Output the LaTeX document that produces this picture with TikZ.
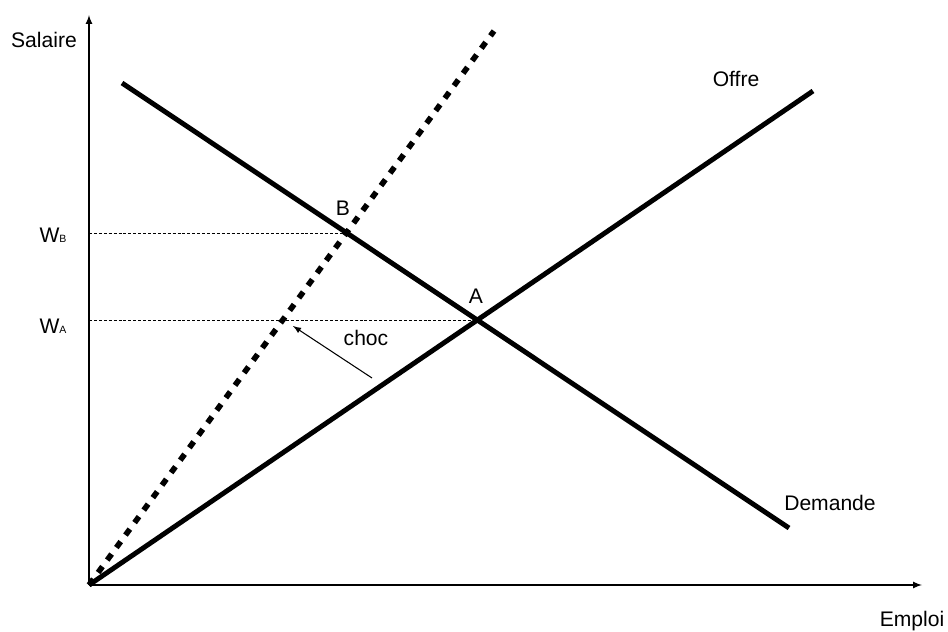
\documentclass[tikz,border=0pt]{standalone}
\usepackage{fontspec}
\setmainfont{Liberation Sans}
\usetikzlibrary{positioning}
\begin{document}
\begin{tikzpicture}[x=0.02cm,y=-0.02cm,>=latex,
courbe/.style={line width=2.8pt},
choccourbe/.style={line width=3.2pt,dash pattern=on 4.2pt off 4.6pt},
niveau/.style={line width=0.5pt,dash pattern=on 1.7pt off 1.1pt},
lbl/.style={inner sep=0pt,font=\fontsize{12}{14}\selectfont},
petit/.style={font=\fontsize{6}{7}\selectfont}]
\useasboundingbox (0,0) rectangle (948,632);

\coordinate (O) at (89,585);
\coordinate (xmax) at (922,585);
\coordinate (ymax) at (89,15);
\coordinate (offreFin) at (813,91);
\coordinate (chocFin) at (494,31);
\coordinate (demDebut) at (122,83);
\coordinate (demFin) at (789,528);
\coordinate (A) at (476,320);
\coordinate (B) at (346,233);
\coordinate (wA) at (89,320);
\coordinate (wB) at (89,233);
\coordinate (chocQueue) at (372,378);
\coordinate (chocPointe) at (293,326);

\draw[->,line width=0.75pt] (O) -- (xmax);
\draw[->,line width=0.75pt] (O) -- (ymax);

\draw[niveau] (wB) -- (B);
\draw[niveau] (wA) -- (A);

\draw[courbe] (O) -- (offreFin);
\draw[courbe] (demDebut) -- (demFin);
\draw[choccourbe] (O) -- (chocFin);

\draw[->,line width=0.6pt] (chocQueue) -- (chocPointe);

\node[lbl] (salaire) at (44,40) {Salaire};
\node[lbl] (emploi) at (912,621) {Emploi};
\node[lbl] (offre) at (736,79) {Offre};
\node[lbl] (demande) at (830,503) {Demande};
\node[lbl] (lblB) at (343,208) {B};
\node[lbl] (lblA) at (476,296) {A};
\node[lbl] (choc) at (366,338) {choc};
\node[lbl] (lblWB) at (53,235) {W{\fontsize{6}{7}\selectfont B}};
\node[lbl] (lblWA) at (53,326) {W{\fontsize{6}{7}\selectfont A}};

\end{tikzpicture}
\end{document}
